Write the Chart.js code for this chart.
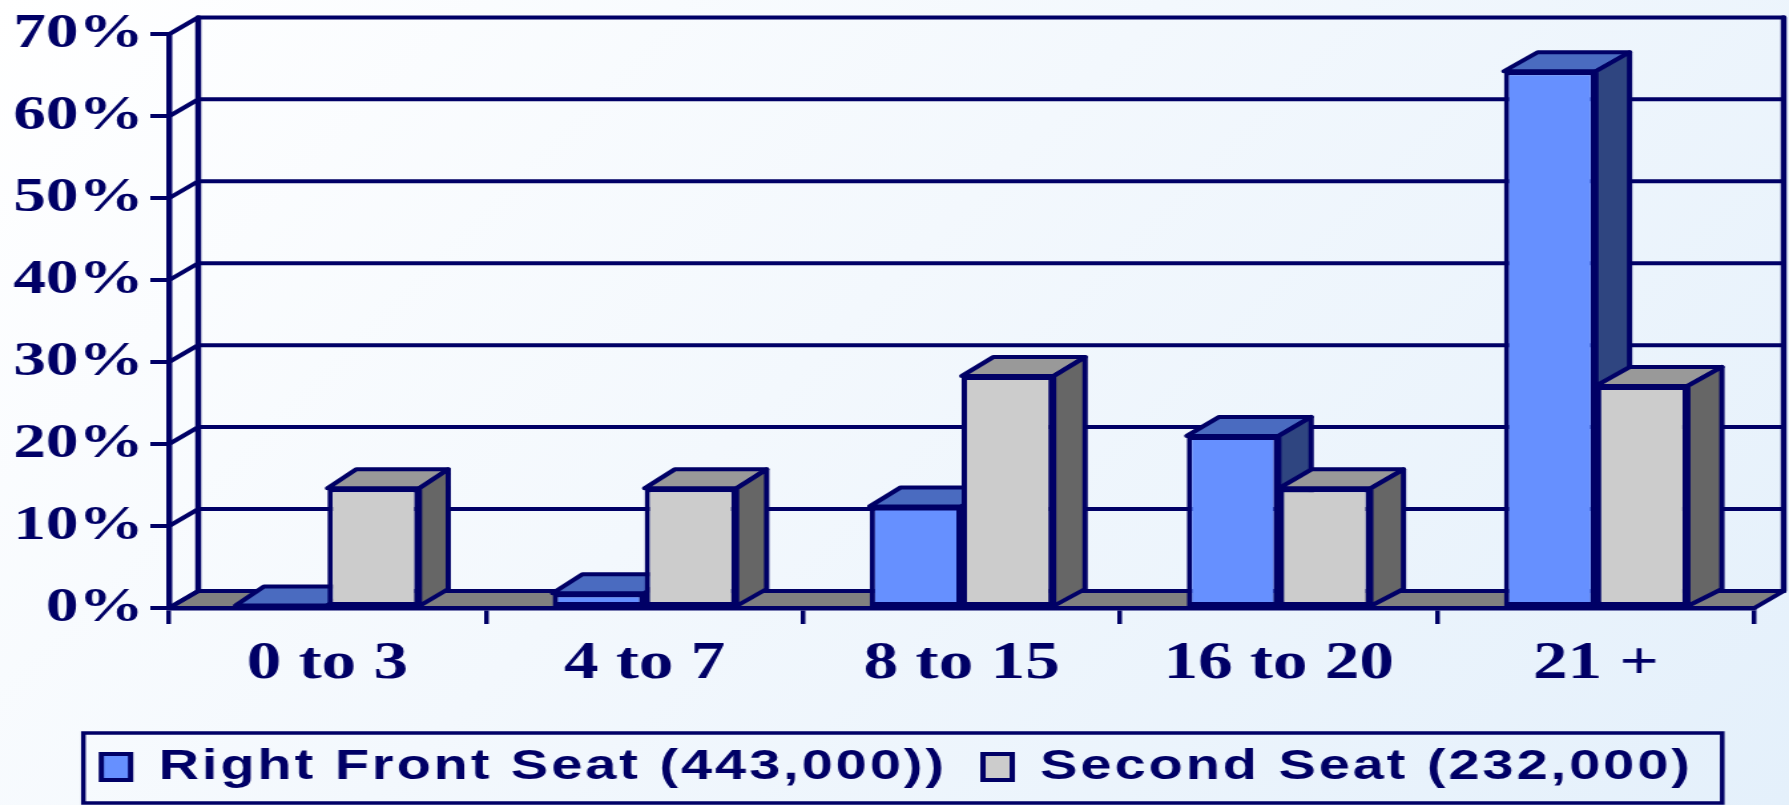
<!DOCTYPE html>
<html><head><meta charset="utf-8">
<script src="https://cdn.jsdelivr.net/npm/chart.js@4"></script>
<style>
html,body{margin:0;padding:0;width:1789px;height:805px;overflow:hidden;
  background:linear-gradient(135deg,#ffffff 0%,#f3f8fd 45%,#e4f0fb 100%);}
#wrap{position:absolute;left:0;top:0;width:1345px;height:805px;transform:scaleX(1.3301);transform-origin:0 0;}
</style></head><body>
<div id="wrap"><canvas id="c"></canvas></div>
<script>
const categories = ['0 to 3', '4 to 7', '8 to 15', '16 to 20', '21 +'];
const rightFrontSeat = [0.3, 1.8, 12.4, 21.0, 65.5];
const secondSeat = [14.6, 14.6, 28.3, 14.6, 27.1];
const seriesNames = ['Right Front Seat (443,000))', 'Second Seat (232,000)'];
const yTickValues = [0, 10, 20, 30, 40, 50, 60, 70];

const NAVY = '#000066';
const DX = 22, DY = -17;        // walls / floor depth
const BAR_DY = -19;             // bar depth (vertical)
const LEGEND_SPACING = '2.25px';

function drawFaces(chart, meta, topColor, sideColor) {
  const ctx = chart.ctx;
  const {left, right} = chart.chartArea;
  ctx.save();
  ctx.strokeStyle = NAVY; ctx.lineWidth = 4; ctx.lineJoin = 'round';
  meta.data.forEach(bar => {
    const p = bar.getProps(['x', 'y', 'base', 'width'], true);
    const l = p.x - p.width / 2, r = p.x + p.width / 2;
    const dx = 21 + 5 * (p.x - left) / (right - left);
    const dy = BAR_DY;
    ctx.beginPath();
    ctx.moveTo(l, p.y); ctx.lineTo(l + dx, p.y + dy); ctx.lineTo(r + dx, p.y + dy); ctx.lineTo(r, p.y); ctx.closePath();
    ctx.fillStyle = topColor; ctx.fill(); ctx.stroke();
    ctx.beginPath();
    ctx.moveTo(r, p.y); ctx.lineTo(r + dx, p.y + dy); ctx.lineTo(r + dx, p.base + DY); ctx.lineTo(r, p.base); ctx.closePath();
    ctx.fillStyle = sideColor; ctx.fill(); ctx.stroke();
  });
  ctx.restore();
}

const threeD = {
  id: 'threeD',
  beforeLayout(chart) { chart.ctx.letterSpacing = LEGEND_SPACING; },
  afterLayout(chart) {
    chart.ctx.letterSpacing = '0px';
    // let the y tick labels use the space left of the axis box
    chart.scales.y.left = 0;
  },
  beforeDraw(chart) { chart.ctx.letterSpacing = LEGEND_SPACING; },
  beforeDatasetsDraw(chart) {
    const ctx = chart.ctx;
    ctx.letterSpacing = '0px';
    const {left, right, top, bottom} = chart.chartArea;
    const ys = chart.scales.y;
    ctx.save();
    ctx.strokeStyle = NAVY; ctx.lineWidth = 4; ctx.lineJoin = 'round'; ctx.lineCap = 'round';
    ctx.beginPath();
    ctx.moveTo(left, bottom); ctx.lineTo(right, bottom); ctx.lineTo(right + DX, bottom + DY); ctx.lineTo(left + DX, bottom + DY); ctx.closePath();
    ctx.fillStyle = '#808080'; ctx.fill(); ctx.stroke();
    ys.ticks.forEach(t => {
      const y = ys.getPixelForValue(t.value);
      ctx.beginPath(); ctx.moveTo(left, y); ctx.lineTo(left + DX, y + DY); ctx.lineTo(right + DX, y + DY); ctx.stroke();
    });
    ctx.lineWidth = 4.5;
    ctx.beginPath();
    ctx.moveTo(left + DX, top + DY); ctx.lineTo(left + DX, bottom + DY);
    ctx.moveTo(right + DX, top + DY); ctx.lineTo(right + DX, bottom + DY);
    ctx.stroke();
    ctx.restore();
    drawFaces(chart, chart.getDatasetMeta(0), '#4A6BC0', '#2F4580');
  },
  afterDatasetsDraw(chart) {
    drawFaces(chart, chart.getDatasetMeta(1), '#999999', '#666666');
  },
  afterDraw(chart) {
    const ctx = chart.ctx, lg = chart.legend, hb = lg.legendHitBoxes;
    const last = hb[hb.length - 1];
    const x0 = hb[0].left - 13.5, x1 = last.left + last.width + 22;
    const y0 = lg.top + 14, y1 = lg.bottom + 5;
    ctx.save();
    ctx.strokeStyle = NAVY; ctx.lineWidth = 3.5;
    ctx.strokeRect(x0, y0, x1 - x0, y1 - y0);
    ctx.restore();
  }
};

new Chart(document.getElementById('c'), {
  type: 'bar',
  data: {
    labels: categories,
    datasets: [
      { label: seriesNames[0], data: rightFrontSeat, backgroundColor: '#6690FF', borderColor: NAVY, borderWidth: 4, borderSkipped: false },
      { label: seriesNames[1], data: secondSeat, backgroundColor: '#CCCCCC', borderColor: NAVY, borderWidth: 4, borderSkipped: false }
    ]
  },
  options: {
    responsive: true,
    maintainAspectRatio: false,
    animation: false,
    datasets: { bar: { categoryPercentage: 0.58, barPercentage: 1.0 } },
    layout: { padding: { left: 30, right: 26, top: 30, bottom: 7 } },
    plugins: {
      tooltip: { enabled: false },
      legend: {
        position: 'bottom',
        labels: {
          font: { family: 'Liberation Sans', weight: 'bold', size: 42 },
          color: NAVY, boxWidth: 22, boxHeight: 26, padding: 27
        }
      }
    },
    scales: {
      x: {
        offset: true,
        grid: { display: true, drawOnChartArea: false, drawTicks: true, tickLength: 16, color: NAVY, lineWidth: 3.5, offset: true },
        border: { display: true, color: NAVY, width: 4.5 },
        ticks: { color: NAVY, font: { family: 'Liberation Serif', weight: 'bold', size: 52 }, padding: 9, z: 1, maxRotation: 0, autoSkip: false },
        afterFit: s => { s.height = 111; }
      },
      y: {
        min: 0, max: 70,
        afterBuildTicks: s => { s.ticks = yTickValues.map(v => ({ value: v })); },
        grid: { drawOnChartArea: false, drawTicks: true, tickLength: 14, color: NAVY, lineWidth: 4 },
        border: { display: true, color: NAVY, width: 4.5 },
        ticks: { color: NAVY, font: { family: 'Liberation Serif', weight: 'bold', size: 49 }, padding: 5, z: 1, callback: v => v + '%' },
        afterFit: s => { s.width = 97; }
      }
    }
  },
  plugins: [threeD]
});
</script>
</body></html>
